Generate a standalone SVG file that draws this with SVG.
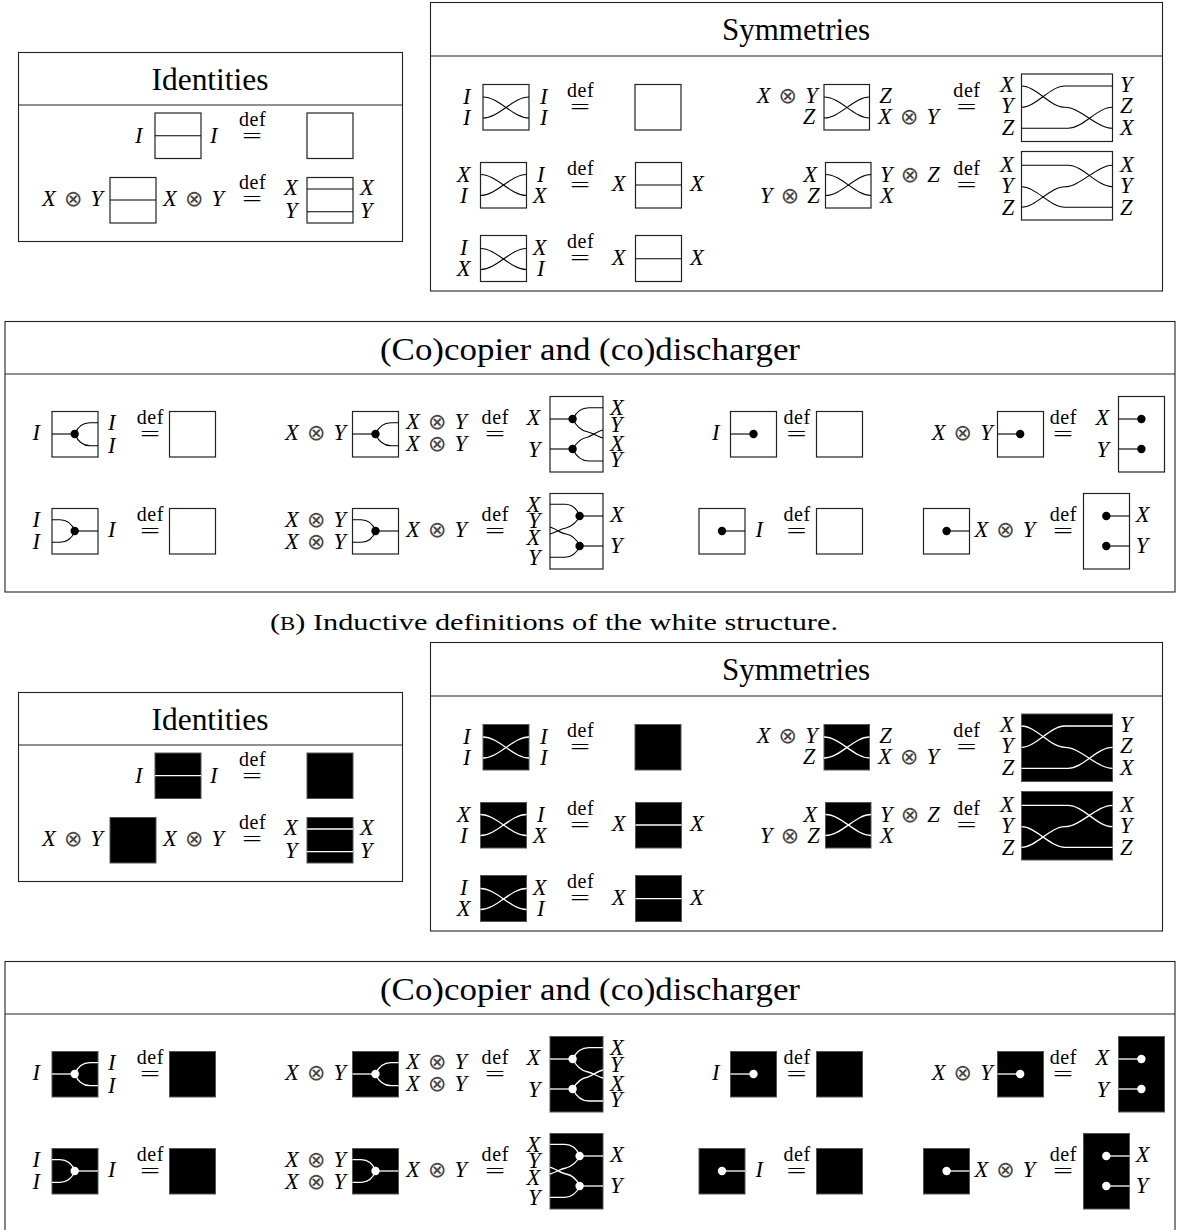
<svg xmlns="http://www.w3.org/2000/svg" width="1180" height="1230" viewBox="0 0 1180 1230">
<style>
text{font-family:"Liberation Serif","Times New Roman",serif;fill:#000}
.m{font-style:italic;font-size:22.5px;word-spacing:2.5px}
.o{font-family:"DejaVu Sans",sans-serif;font-style:normal;font-size:22px;fill:#444}
.d{font-size:20px;letter-spacing:.6px}
.e{font-size:22px}
.t{font-size:31px;text-anchor:middle}
.c{font-size:24px}
.p{fill:#fff;stroke:#222;stroke-width:1.1}
.h{stroke:#222;stroke-width:1.1}
.w .b{fill:#fff;stroke:#222;stroke-width:1.2}
.k .b{fill:#000;stroke:#555;stroke-width:1}
.w circle{fill:#000}
.k circle{fill:#fff}
.cw,.ck{fill:none}
.cw path{fill:none;stroke:#000;stroke-width:1.1}
.ck path{fill:none;stroke:#fff;stroke-width:1.3}
</style>
<rect width="1180" height="1230" fill="#fff"/>

<g id="white-structure" class="w">
<g id="w-identities"><rect class="p" x="18.5" y="52.5" width="384" height="189"/><line class="h" x1="18.5" y1="105" x2="402.5" y2="105"/><text class="t" x="210" y="90" textLength="117" lengthAdjust="spacingAndGlyphs">Identities</text></g>
<g id="w-id-1"><text class="m" x="135" y="142.5">I</text><rect class="b" x="155" y="113" width="46" height="45.5"/><text class="m" x="210" y="142.5">I</text><text class="d" x="239" y="126">def</text><text class="e" x="242" y="143" textLength="20" lengthAdjust="spacingAndGlyphs">=</text><rect class="b" x="307" y="113" width="46" height="45.5"/></g>
<g id="w-id-2"><text class="m" x="42" y="205.7">X <tspan class="o">⊗</tspan> Y</text><rect class="b" x="110" y="177.5" width="46" height="45.5"/><text class="m" x="163" y="205.7">X <tspan class="o">⊗</tspan> Y</text><text class="d" x="239" y="189.3">def</text><text class="e" x="242" y="206.2" textLength="20" lengthAdjust="spacingAndGlyphs">=</text><text class="m" x="284" y="195">X</text><text class="m" x="285" y="218">Y</text><rect class="b" x="307" y="177.5" width="46" height="45.5"/><text class="m" x="360" y="195">X</text><text class="m" x="360" y="218">Y</text></g>

<g id="w-symmetries"><rect class="p" x="430.5" y="2.5" width="732" height="288.5"/><line class="h" x1="430.5" y1="56" x2="1162.5" y2="56"/><text class="t" x="796" y="40" textLength="148" lengthAdjust="spacingAndGlyphs">Symmetries</text></g>
<g id="w-sym-1"><text class="m" x="463" y="103.5">I</text><text class="m" x="463" y="125">I</text><rect class="b" x="483" y="84.5" width="46" height="45.5"/><text class="m" x="540" y="103.5">I</text><text class="m" x="540" y="125">I</text><text class="d" x="567" y="96.7">def</text><text class="e" x="570" y="113.7" textLength="20" lengthAdjust="spacingAndGlyphs">=</text><rect class="b" x="635" y="84.5" width="46" height="45.5"/></g>
<g id="w-sym-2"><text class="m" x="456.7" y="181.7">X</text><text class="m" x="460" y="203">I</text><rect class="b" x="480.5" y="162.5" width="46" height="45.5"/><text class="m" x="537" y="181.7">I</text><text class="m" x="532.7" y="203">X</text><text class="d" x="567" y="175">def</text><text class="e" x="570" y="192" textLength="20" lengthAdjust="spacingAndGlyphs">=</text><text class="m" x="611.7" y="190.7">X</text><rect class="b" x="635.5" y="162.5" width="46" height="45.5"/><text class="m" x="690" y="190.7">X</text></g>
<g id="w-sym-3"><text class="m" x="460" y="255">I</text><text class="m" x="456.7" y="276">X</text><rect class="b" x="480.5" y="235.5" width="46" height="46"/><text class="m" x="532.7" y="255">X</text><text class="m" x="537" y="276">I</text><text class="d" x="567" y="248.3">def</text><text class="e" x="570" y="265.3" textLength="20" lengthAdjust="spacingAndGlyphs">=</text><text class="m" x="611.7" y="264.5">X</text><rect class="b" x="635.5" y="235.5" width="46" height="46"/><text class="m" x="690" y="264.5">X</text></g>
<g id="w-sym-4"><text class="m" x="756.7" y="102.7">X <tspan class="o">⊗</tspan> Y</text><text class="m" x="802.7" y="124.3">Z</text><rect class="b" x="824" y="84.5" width="45.5" height="45.5"/><text class="m" x="879.3" y="102.7">Z</text><text class="m" x="878" y="124.3">X <tspan class="o">⊗</tspan> Y</text><text class="d" x="953.3" y="96.7">def</text><text class="e" x="956.5" y="113.7" textLength="20" lengthAdjust="spacingAndGlyphs">=</text><text class="m" x="1000" y="91.5">X</text><text class="m" x="1001" y="113.3">Y</text><text class="m" x="1001.7" y="135">Z</text><rect class="b" x="1021.5" y="74" width="91" height="67.5"/><text class="m" x="1120" y="91.5">Y</text><text class="m" x="1120" y="113.3">Z</text><text class="m" x="1120" y="135">X</text></g>
<g id="w-sym-5"><text class="m" x="803.3" y="181.7">X</text><text class="m" x="760" y="202.7">Y <tspan class="o">⊗</tspan> Z</text><rect class="b" x="825.5" y="162.5" width="45.5" height="45.5"/><text class="m" x="880" y="181.7">Y <tspan class="o">⊗</tspan> Z</text><text class="m" x="880" y="202.7">X</text><text class="d" x="953.3" y="175">def</text><text class="e" x="956.5" y="192" textLength="20" lengthAdjust="spacingAndGlyphs">=</text><text class="m" x="1000" y="171.7">X</text><text class="m" x="1001" y="193">Y</text><text class="m" x="1001.7" y="215">Z</text><rect class="b" x="1021.5" y="151.5" width="91" height="68.5"/><text class="m" x="1120" y="171.7">X</text><text class="m" x="1120" y="193">Y</text><text class="m" x="1120" y="215">Z</text></g>

<g id="w-copier"><rect class="p" x="5" y="321.5" width="1170" height="270.5"/><line class="h" x1="5" y1="374" x2="1175" y2="374"/><text class="t" x="590" y="360" textLength="420" lengthAdjust="spacingAndGlyphs">(Co)copier and (co)discharger</text></g>
<g id="w-cp-1"><text class="m" x="32.6" y="440">I</text><rect class="b" x="52" y="411.5" width="46" height="45.5"/><circle cx="74.7" cy="434" r="4.2"/><text class="m" x="108" y="430">I</text><text class="m" x="108" y="453">I</text><text class="d" x="136.7" y="424.3">def</text><text class="e" x="140" y="441.3" textLength="20" lengthAdjust="spacingAndGlyphs">=</text><rect class="b" x="169.5" y="411.5" width="46" height="45.5"/></g>
<g id="w-cp-2"><text class="m" x="285" y="440">X <tspan class="o">⊗</tspan> Y</text><rect class="b" x="352.5" y="411.5" width="46" height="45.5"/><circle cx="375.5" cy="434" r="4.2"/><text class="m" x="406" y="429">X <tspan class="o">⊗</tspan> Y</text><text class="m" x="406" y="451">X <tspan class="o">⊗</tspan> Y</text><text class="d" x="481.6" y="424.3">def</text><text class="e" x="485" y="441.3" textLength="20" lengthAdjust="spacingAndGlyphs">=</text><text class="m" x="526.5" y="425">X</text><text class="m" x="528" y="456.7">Y</text><rect class="b" x="550" y="396.5" width="53" height="75.5"/><circle cx="572.6" cy="419" r="4.2"/><circle cx="572.6" cy="449" r="4.2"/><text class="m" x="610" y="415">X</text><text class="m" x="610" y="432">Y</text><text class="m" x="610" y="450.7">X</text><text class="m" x="610" y="466.7">Y</text></g>
<g id="w-cp-3"><text class="m" x="711.9" y="440">I</text><rect class="b" x="730.5" y="411.5" width="46" height="45.5"/><circle cx="753.5" cy="434" r="4.2"/><text class="d" x="783.4" y="424.3">def</text><text class="e" x="786.5" y="441.3" textLength="20" lengthAdjust="spacingAndGlyphs">=</text><rect class="b" x="816.5" y="411.5" width="46" height="45.5"/></g>
<g id="w-cp-4"><text class="m" x="931.7" y="440">X <tspan class="o">⊗</tspan> Y</text><rect class="b" x="997.5" y="411.5" width="46" height="45.5"/><circle cx="1020.2" cy="434" r="4.2"/><text class="d" x="1049.7" y="424.3">def</text><text class="e" x="1053" y="441.3" textLength="20" lengthAdjust="spacingAndGlyphs">=</text><text class="m" x="1095.6" y="425">X</text><text class="m" x="1096.5" y="457">Y</text><rect class="b" x="1118.5" y="396.5" width="46" height="75.5"/><circle cx="1141.4" cy="419" r="4.2"/><circle cx="1141.4" cy="449" r="4.2"/></g>
<g id="w-cp-5"><text class="m" x="32.6" y="526.7">I</text><text class="m" x="32.6" y="549">I</text><rect class="b" x="52" y="508.5" width="46" height="45.5"/><circle cx="74.7" cy="531" r="4.2"/><text class="m" x="108" y="537.3">I</text><text class="d" x="136.7" y="521">def</text><text class="e" x="140" y="538" textLength="20" lengthAdjust="spacingAndGlyphs">=</text><rect class="b" x="169.5" y="508.5" width="46" height="45.5"/></g>
<g id="w-cp-6"><text class="m" x="285" y="526.7">X <tspan class="o">⊗</tspan> Y</text><text class="m" x="285" y="549">X <tspan class="o">⊗</tspan> Y</text><rect class="b" x="352.5" y="508.5" width="46" height="45.5"/><circle cx="375.5" cy="531" r="4.2"/><text class="m" x="406" y="537.3">X <tspan class="o">⊗</tspan> Y</text><text class="d" x="481.6" y="521">def</text><text class="e" x="485" y="538" textLength="20" lengthAdjust="spacingAndGlyphs">=</text><text class="m" x="526.5" y="511.7">X</text><text class="m" x="528" y="527.7">Y</text><text class="m" x="526.5" y="545">X</text><text class="m" x="528" y="565">Y</text><rect class="b" x="550" y="493.5" width="53" height="75.5"/><circle cx="579.6" cy="516" r="4.2"/><circle cx="579.6" cy="546" r="4.2"/><text class="m" x="610" y="522">X</text><text class="m" x="610" y="552.7">Y</text></g>
<g id="w-cp-7"><rect class="b" x="699" y="508.5" width="46" height="45.5"/><circle cx="722" cy="531" r="4.2"/><text class="m" x="755.6" y="537.3">I</text><text class="d" x="783.4" y="521">def</text><text class="e" x="786.5" y="538" textLength="20" lengthAdjust="spacingAndGlyphs">=</text><rect class="b" x="816.5" y="508.5" width="46" height="45.5"/></g>
<g id="w-cp-8"><rect class="b" x="923.5" y="508.5" width="46" height="45.5"/><circle cx="946.6" cy="531" r="4.2"/><text class="m" x="974.4" y="537.3">X <tspan class="o">⊗</tspan> Y</text><text class="d" x="1049.7" y="521">def</text><text class="e" x="1053" y="538" textLength="20" lengthAdjust="spacingAndGlyphs">=</text><rect class="b" x="1083.5" y="493.5" width="46" height="75.5"/><circle cx="1106.3" cy="516" r="4.2"/><circle cx="1106.3" cy="546" r="4.2"/><text class="m" x="1135.8" y="522">X</text><text class="m" x="1135.8" y="552.7">Y</text></g>
</g>

<text id="caption" class="c" x="270" y="630" textLength="568" lengthAdjust="spacingAndGlyphs">(<tspan font-size="18">B</tspan>) Inductive definitions of the white structure.</text>

<g id="black-structure" class="k" transform="translate(0,640)">
<g id="k-identities"><rect class="p" x="18.5" y="52.5" width="384" height="189"/><line class="h" x1="18.5" y1="105" x2="402.5" y2="105"/><text class="t" x="210" y="90" textLength="117" lengthAdjust="spacingAndGlyphs">Identities</text></g>
<g id="k-id-1"><text class="m" x="135" y="142.5">I</text><rect class="b" x="155" y="113" width="46" height="45.5"/><text class="m" x="210" y="142.5">I</text><text class="d" x="239" y="126">def</text><text class="e" x="242" y="143" textLength="20" lengthAdjust="spacingAndGlyphs">=</text><rect class="b" x="307" y="113" width="46" height="45.5"/></g>
<g id="k-id-2"><text class="m" x="42" y="205.7">X <tspan class="o">⊗</tspan> Y</text><rect class="b" x="110" y="177.5" width="46" height="45.5"/><text class="m" x="163" y="205.7">X <tspan class="o">⊗</tspan> Y</text><text class="d" x="239" y="189.3">def</text><text class="e" x="242" y="206.2" textLength="20" lengthAdjust="spacingAndGlyphs">=</text><text class="m" x="284" y="195">X</text><text class="m" x="285" y="218">Y</text><rect class="b" x="307" y="177.5" width="46" height="45.5"/><text class="m" x="360" y="195">X</text><text class="m" x="360" y="218">Y</text></g>

<g id="k-symmetries"><rect class="p" x="430.5" y="2.5" width="732" height="288.5"/><line class="h" x1="430.5" y1="56" x2="1162.5" y2="56"/><text class="t" x="796" y="40" textLength="148" lengthAdjust="spacingAndGlyphs">Symmetries</text></g>
<g id="k-sym-1"><text class="m" x="463" y="103.5">I</text><text class="m" x="463" y="125">I</text><rect class="b" x="483" y="84.5" width="46" height="45.5"/><text class="m" x="540" y="103.5">I</text><text class="m" x="540" y="125">I</text><text class="d" x="567" y="96.7">def</text><text class="e" x="570" y="113.7" textLength="20" lengthAdjust="spacingAndGlyphs">=</text><rect class="b" x="635" y="84.5" width="46" height="45.5"/></g>
<g id="k-sym-2"><text class="m" x="456.7" y="181.7">X</text><text class="m" x="460" y="203">I</text><rect class="b" x="480.5" y="162.5" width="46" height="45.5"/><text class="m" x="537" y="181.7">I</text><text class="m" x="532.7" y="203">X</text><text class="d" x="567" y="175">def</text><text class="e" x="570" y="192" textLength="20" lengthAdjust="spacingAndGlyphs">=</text><text class="m" x="611.7" y="190.7">X</text><rect class="b" x="635.5" y="162.5" width="46" height="45.5"/><text class="m" x="690" y="190.7">X</text></g>
<g id="k-sym-3"><text class="m" x="460" y="255">I</text><text class="m" x="456.7" y="276">X</text><rect class="b" x="480.5" y="235.5" width="46" height="46"/><text class="m" x="532.7" y="255">X</text><text class="m" x="537" y="276">I</text><text class="d" x="567" y="248.3">def</text><text class="e" x="570" y="265.3" textLength="20" lengthAdjust="spacingAndGlyphs">=</text><text class="m" x="611.7" y="264.5">X</text><rect class="b" x="635.5" y="235.5" width="46" height="46"/><text class="m" x="690" y="264.5">X</text></g>
<g id="k-sym-4"><text class="m" x="756.7" y="102.7">X <tspan class="o">⊗</tspan> Y</text><text class="m" x="802.7" y="124.3">Z</text><rect class="b" x="824" y="84.5" width="45.5" height="45.5"/><text class="m" x="879.3" y="102.7">Z</text><text class="m" x="878" y="124.3">X <tspan class="o">⊗</tspan> Y</text><text class="d" x="953.3" y="96.7">def</text><text class="e" x="956.5" y="113.7" textLength="20" lengthAdjust="spacingAndGlyphs">=</text><text class="m" x="1000" y="91.5">X</text><text class="m" x="1001" y="113.3">Y</text><text class="m" x="1001.7" y="135">Z</text><rect class="b" x="1021.5" y="74" width="91" height="67.5"/><text class="m" x="1120" y="91.5">Y</text><text class="m" x="1120" y="113.3">Z</text><text class="m" x="1120" y="135">X</text></g>
<g id="k-sym-5"><text class="m" x="803.3" y="181.7">X</text><text class="m" x="760" y="202.7">Y <tspan class="o">⊗</tspan> Z</text><rect class="b" x="825.5" y="162.5" width="45.5" height="45.5"/><text class="m" x="880" y="181.7">Y <tspan class="o">⊗</tspan> Z</text><text class="m" x="880" y="202.7">X</text><text class="d" x="953.3" y="175">def</text><text class="e" x="956.5" y="192" textLength="20" lengthAdjust="spacingAndGlyphs">=</text><text class="m" x="1000" y="171.7">X</text><text class="m" x="1001" y="193">Y</text><text class="m" x="1001.7" y="215">Z</text><rect class="b" x="1021.5" y="151.5" width="91" height="68.5"/><text class="m" x="1120" y="171.7">X</text><text class="m" x="1120" y="193">Y</text><text class="m" x="1120" y="215">Z</text></g>

<g id="k-copier"><rect class="p" x="5" y="321.5" width="1170" height="270.5"/><line class="h" x1="5" y1="374" x2="1175" y2="374"/><text class="t" x="590" y="360" textLength="420" lengthAdjust="spacingAndGlyphs">(Co)copier and (co)discharger</text></g>
<g id="k-cp-1"><text class="m" x="32.6" y="440">I</text><rect class="b" x="52" y="411.5" width="46" height="45.5"/><circle cx="74.7" cy="434" r="4.2"/><text class="m" x="108" y="430">I</text><text class="m" x="108" y="453">I</text><text class="d" x="136.7" y="424.3">def</text><text class="e" x="140" y="441.3" textLength="20" lengthAdjust="spacingAndGlyphs">=</text><rect class="b" x="169.5" y="411.5" width="46" height="45.5"/></g>
<g id="k-cp-2"><text class="m" x="285" y="440">X <tspan class="o">⊗</tspan> Y</text><rect class="b" x="352.5" y="411.5" width="46" height="45.5"/><circle cx="375.5" cy="434" r="4.2"/><text class="m" x="406" y="429">X <tspan class="o">⊗</tspan> Y</text><text class="m" x="406" y="451">X <tspan class="o">⊗</tspan> Y</text><text class="d" x="481.6" y="424.3">def</text><text class="e" x="485" y="441.3" textLength="20" lengthAdjust="spacingAndGlyphs">=</text><text class="m" x="526.5" y="425">X</text><text class="m" x="528" y="456.7">Y</text><rect class="b" x="550" y="396.5" width="53" height="75.5"/><circle cx="572.6" cy="419" r="4.2"/><circle cx="572.6" cy="449" r="4.2"/><text class="m" x="610" y="415">X</text><text class="m" x="610" y="432">Y</text><text class="m" x="610" y="450.7">X</text><text class="m" x="610" y="466.7">Y</text></g>
<g id="k-cp-3"><text class="m" x="711.9" y="440">I</text><rect class="b" x="730.5" y="411.5" width="46" height="45.5"/><circle cx="753.5" cy="434" r="4.2"/><text class="d" x="783.4" y="424.3">def</text><text class="e" x="786.5" y="441.3" textLength="20" lengthAdjust="spacingAndGlyphs">=</text><rect class="b" x="816.5" y="411.5" width="46" height="45.5"/></g>
<g id="k-cp-4"><text class="m" x="931.7" y="440">X <tspan class="o">⊗</tspan> Y</text><rect class="b" x="997.5" y="411.5" width="46" height="45.5"/><circle cx="1020.2" cy="434" r="4.2"/><text class="d" x="1049.7" y="424.3">def</text><text class="e" x="1053" y="441.3" textLength="20" lengthAdjust="spacingAndGlyphs">=</text><text class="m" x="1095.6" y="425">X</text><text class="m" x="1096.5" y="457">Y</text><rect class="b" x="1118.5" y="396.5" width="46" height="75.5"/><circle cx="1141.4" cy="419" r="4.2"/><circle cx="1141.4" cy="449" r="4.2"/></g>
<g id="k-cp-5"><text class="m" x="32.6" y="526.7">I</text><text class="m" x="32.6" y="549">I</text><rect class="b" x="52" y="508.5" width="46" height="45.5"/><circle cx="74.7" cy="531" r="4.2"/><text class="m" x="108" y="537.3">I</text><text class="d" x="136.7" y="521">def</text><text class="e" x="140" y="538" textLength="20" lengthAdjust="spacingAndGlyphs">=</text><rect class="b" x="169.5" y="508.5" width="46" height="45.5"/></g>
<g id="k-cp-6"><text class="m" x="285" y="526.7">X <tspan class="o">⊗</tspan> Y</text><text class="m" x="285" y="549">X <tspan class="o">⊗</tspan> Y</text><rect class="b" x="352.5" y="508.5" width="46" height="45.5"/><circle cx="375.5" cy="531" r="4.2"/><text class="m" x="406" y="537.3">X <tspan class="o">⊗</tspan> Y</text><text class="d" x="481.6" y="521">def</text><text class="e" x="485" y="538" textLength="20" lengthAdjust="spacingAndGlyphs">=</text><text class="m" x="526.5" y="511.7">X</text><text class="m" x="528" y="527.7">Y</text><text class="m" x="526.5" y="545">X</text><text class="m" x="528" y="565">Y</text><rect class="b" x="550" y="493.5" width="53" height="75.5"/><circle cx="579.6" cy="516" r="4.2"/><circle cx="579.6" cy="546" r="4.2"/><text class="m" x="610" y="522">X</text><text class="m" x="610" y="552.7">Y</text></g>
<g id="k-cp-7"><rect class="b" x="699" y="508.5" width="46" height="45.5"/><circle cx="722" cy="531" r="4.2"/><text class="m" x="755.6" y="537.3">I</text><text class="d" x="783.4" y="521">def</text><text class="e" x="786.5" y="538" textLength="20" lengthAdjust="spacingAndGlyphs">=</text><rect class="b" x="816.5" y="508.5" width="46" height="45.5"/></g>
<g id="k-cp-8"><rect class="b" x="923.5" y="508.5" width="46" height="45.5"/><circle cx="946.6" cy="531" r="4.2"/><text class="m" x="974.4" y="537.3">X <tspan class="o">⊗</tspan> Y</text><text class="d" x="1049.7" y="521">def</text><text class="e" x="1053" y="538" textLength="20" lengthAdjust="spacingAndGlyphs">=</text><rect class="b" x="1083.5" y="493.5" width="46" height="75.5"/><circle cx="1106.3" cy="516" r="4.2"/><circle cx="1106.3" cy="546" r="4.2"/><text class="m" x="1135.8" y="522">X</text><text class="m" x="1135.8" y="552.7">Y</text></g>
</g>

<g id="connectors">
<g id="wires-white" class="cw">
<path d="M155 135.7H201"/>
<path d="M110 200H156"/><path d="M307 189H353"/><path d="M307 211.7H353"/>
<path d="M483 97c16 0 30 21 46 21"/><path d="M483 118c16 0 30 -21 46 -21"/>
<path d="M480.5 174.5c16 0 30 21 46 21"/><path d="M480.5 195.5c16 0 30 -21 46 -21"/><path d="M635.5 185H681.5"/>
<path d="M480.5 248.5c16 0 30 21 46 21"/><path d="M480.5 269.5c16 0 30 -21 46 -21"/><path d="M635.5 258.7H681.5"/>
<path d="M824 97c16 0 30 21 45.5 21"/><path d="M824 118c16 0 30 -21 45.5 -21"/>
<path d="M1021.5 86C1036 86 1050 107.3 1065 107.3C1080 107.3 1097 128.3 1112.5 128.3"/><path d="M1021.5 107.3C1036 107.3 1050 86 1065 86H1112.5"/><path d="M1021.5 128.3H1068C1083 128.3 1097 107.3 1112.5 107.3"/>
<path d="M825.5 174.5c16 0 30 21 45.5 21"/><path d="M825.5 195.5c16 0 30 -21 45.5 -21"/>
<path d="M1021.5 165.3H1068C1083 165.3 1097 186.7 1112.5 186.7"/><path d="M1021.5 186.7C1036 186.7 1050 207.3 1065 207.3H1112.5"/><path d="M1021.5 207.3C1036 207.3 1050 186.7 1065 186.7C1080 186.7 1097 165.3 1112.5 165.3"/>
<path d="M52 434H75"/><path d="M75 434C78 426 83 422.7 90 422.7H98"/><path d="M75 434C78 442 83 445.7 90 445.7H98"/>
<path d="M352.5 434H375.5"/><path d="M375.5 434C379 426 384 422.7 391 422.7H398.5"/><path d="M375.5 434C379 442 384 445.7 391 445.7H398.5"/>
<path d="M550 419H573"/><path d="M573 419C576 412 581 407.7 589 407.7H603"/><path d="M573 419C577 428 582 431 588 432C593 433 598 437 603 438"/>
<path d="M550 449H573"/><path d="M573 449C577 441 582 438 588 437C593 435 598 431 603 430"/><path d="M573 449C576 456 581 461 589 461H603"/>
<path d="M730.5 434H753.5"/>
<path d="M997.5 434H1020"/>
<path d="M1118.5 419H1141.4"/><path d="M1118.5 449H1141.4"/>
<path d="M52 519.7H60C67 519.7 72 524 75 531"/><path d="M52 542.3H60C67 542.3 72 538 75 531"/><path d="M75 531H98"/>
<path d="M352.5 519.7H361C368 519.7 373 524 375.5 531"/><path d="M352.5 542.3H361C368 542.3 373 538 375.5 531"/><path d="M375.5 531H398.5"/>
<path d="M580 516H603"/><path d="M580 546H603"/><path d="M550 504.3H565C572 504.3 577 509 580 516"/><path d="M550 527.3C555 528 560 533 566 534C572 535 577 540 580 546"/><path d="M550 534C555 533 560 529 566 528C572 526 577 522 580 516"/><path d="M550 557.3H565C572 557.3 577 552 580 546"/>
<path d="M722 531H745"/>
<path d="M946.6 531H969.5"/>
<path d="M1106.3 516H1129.5"/><path d="M1106.3 546H1129.5"/>
</g>
<g id="wires-black" class="ck" transform="translate(0,640)">
<path d="M155 135.7H201"/>
<path d="M307 189H353"/><path d="M307 211.7H353"/>
<path d="M483 97c16 0 30 21 46 21"/><path d="M483 118c16 0 30 -21 46 -21"/>
<path d="M480.5 174.5c16 0 30 21 46 21"/><path d="M480.5 195.5c16 0 30 -21 46 -21"/><path d="M635.5 185H681.5"/>
<path d="M480.5 248.5c16 0 30 21 46 21"/><path d="M480.5 269.5c16 0 30 -21 46 -21"/><path d="M635.5 258.7H681.5"/>
<path d="M824 97c16 0 30 21 45.5 21"/><path d="M824 118c16 0 30 -21 45.5 -21"/>
<path d="M1021.5 86C1036 86 1050 107.3 1065 107.3C1080 107.3 1097 128.3 1112.5 128.3"/><path d="M1021.5 107.3C1036 107.3 1050 86 1065 86H1112.5"/><path d="M1021.5 128.3H1068C1083 128.3 1097 107.3 1112.5 107.3"/>
<path d="M825.5 174.5c16 0 30 21 45.5 21"/><path d="M825.5 195.5c16 0 30 -21 45.5 -21"/>
<path d="M1021.5 165.3H1068C1083 165.3 1097 186.7 1112.5 186.7"/><path d="M1021.5 186.7C1036 186.7 1050 207.3 1065 207.3H1112.5"/><path d="M1021.5 207.3C1036 207.3 1050 186.7 1065 186.7C1080 186.7 1097 165.3 1112.5 165.3"/>
<path d="M52 434H75"/><path d="M75 434C78 426 83 422.7 90 422.7H98"/><path d="M75 434C78 442 83 445.7 90 445.7H98"/>
<path d="M352.5 434H375.5"/><path d="M375.5 434C379 426 384 422.7 391 422.7H398.5"/><path d="M375.5 434C379 442 384 445.7 391 445.7H398.5"/>
<path d="M550 419H573"/><path d="M573 419C576 412 581 407.7 589 407.7H603"/><path d="M573 419C577 428 582 431 588 432C593 433 598 437 603 438"/>
<path d="M550 449H573"/><path d="M573 449C577 441 582 438 588 437C593 435 598 431 603 430"/><path d="M573 449C576 456 581 461 589 461H603"/>
<path d="M730.5 434H753.5"/>
<path d="M997.5 434H1020"/>
<path d="M1118.5 419H1141.4"/><path d="M1118.5 449H1141.4"/>
<path d="M52 519.7H60C67 519.7 72 524 75 531"/><path d="M52 542.3H60C67 542.3 72 538 75 531"/><path d="M75 531H98"/>
<path d="M352.5 519.7H361C368 519.7 373 524 375.5 531"/><path d="M352.5 542.3H361C368 542.3 373 538 375.5 531"/><path d="M375.5 531H398.5"/>
<path d="M580 516H603"/><path d="M580 546H603"/><path d="M550 504.3H565C572 504.3 577 509 580 516"/><path d="M550 527.3C555 528 560 533 566 534C572 535 577 540 580 546"/><path d="M550 534C555 533 560 529 566 528C572 526 577 522 580 516"/><path d="M550 557.3H565C572 557.3 577 552 580 546"/>
<path d="M722 531H745"/>
<path d="M946.6 531H969.5"/>
<path d="M1106.3 516H1129.5"/><path d="M1106.3 546H1129.5"/>
</g>
</g>
</svg>
